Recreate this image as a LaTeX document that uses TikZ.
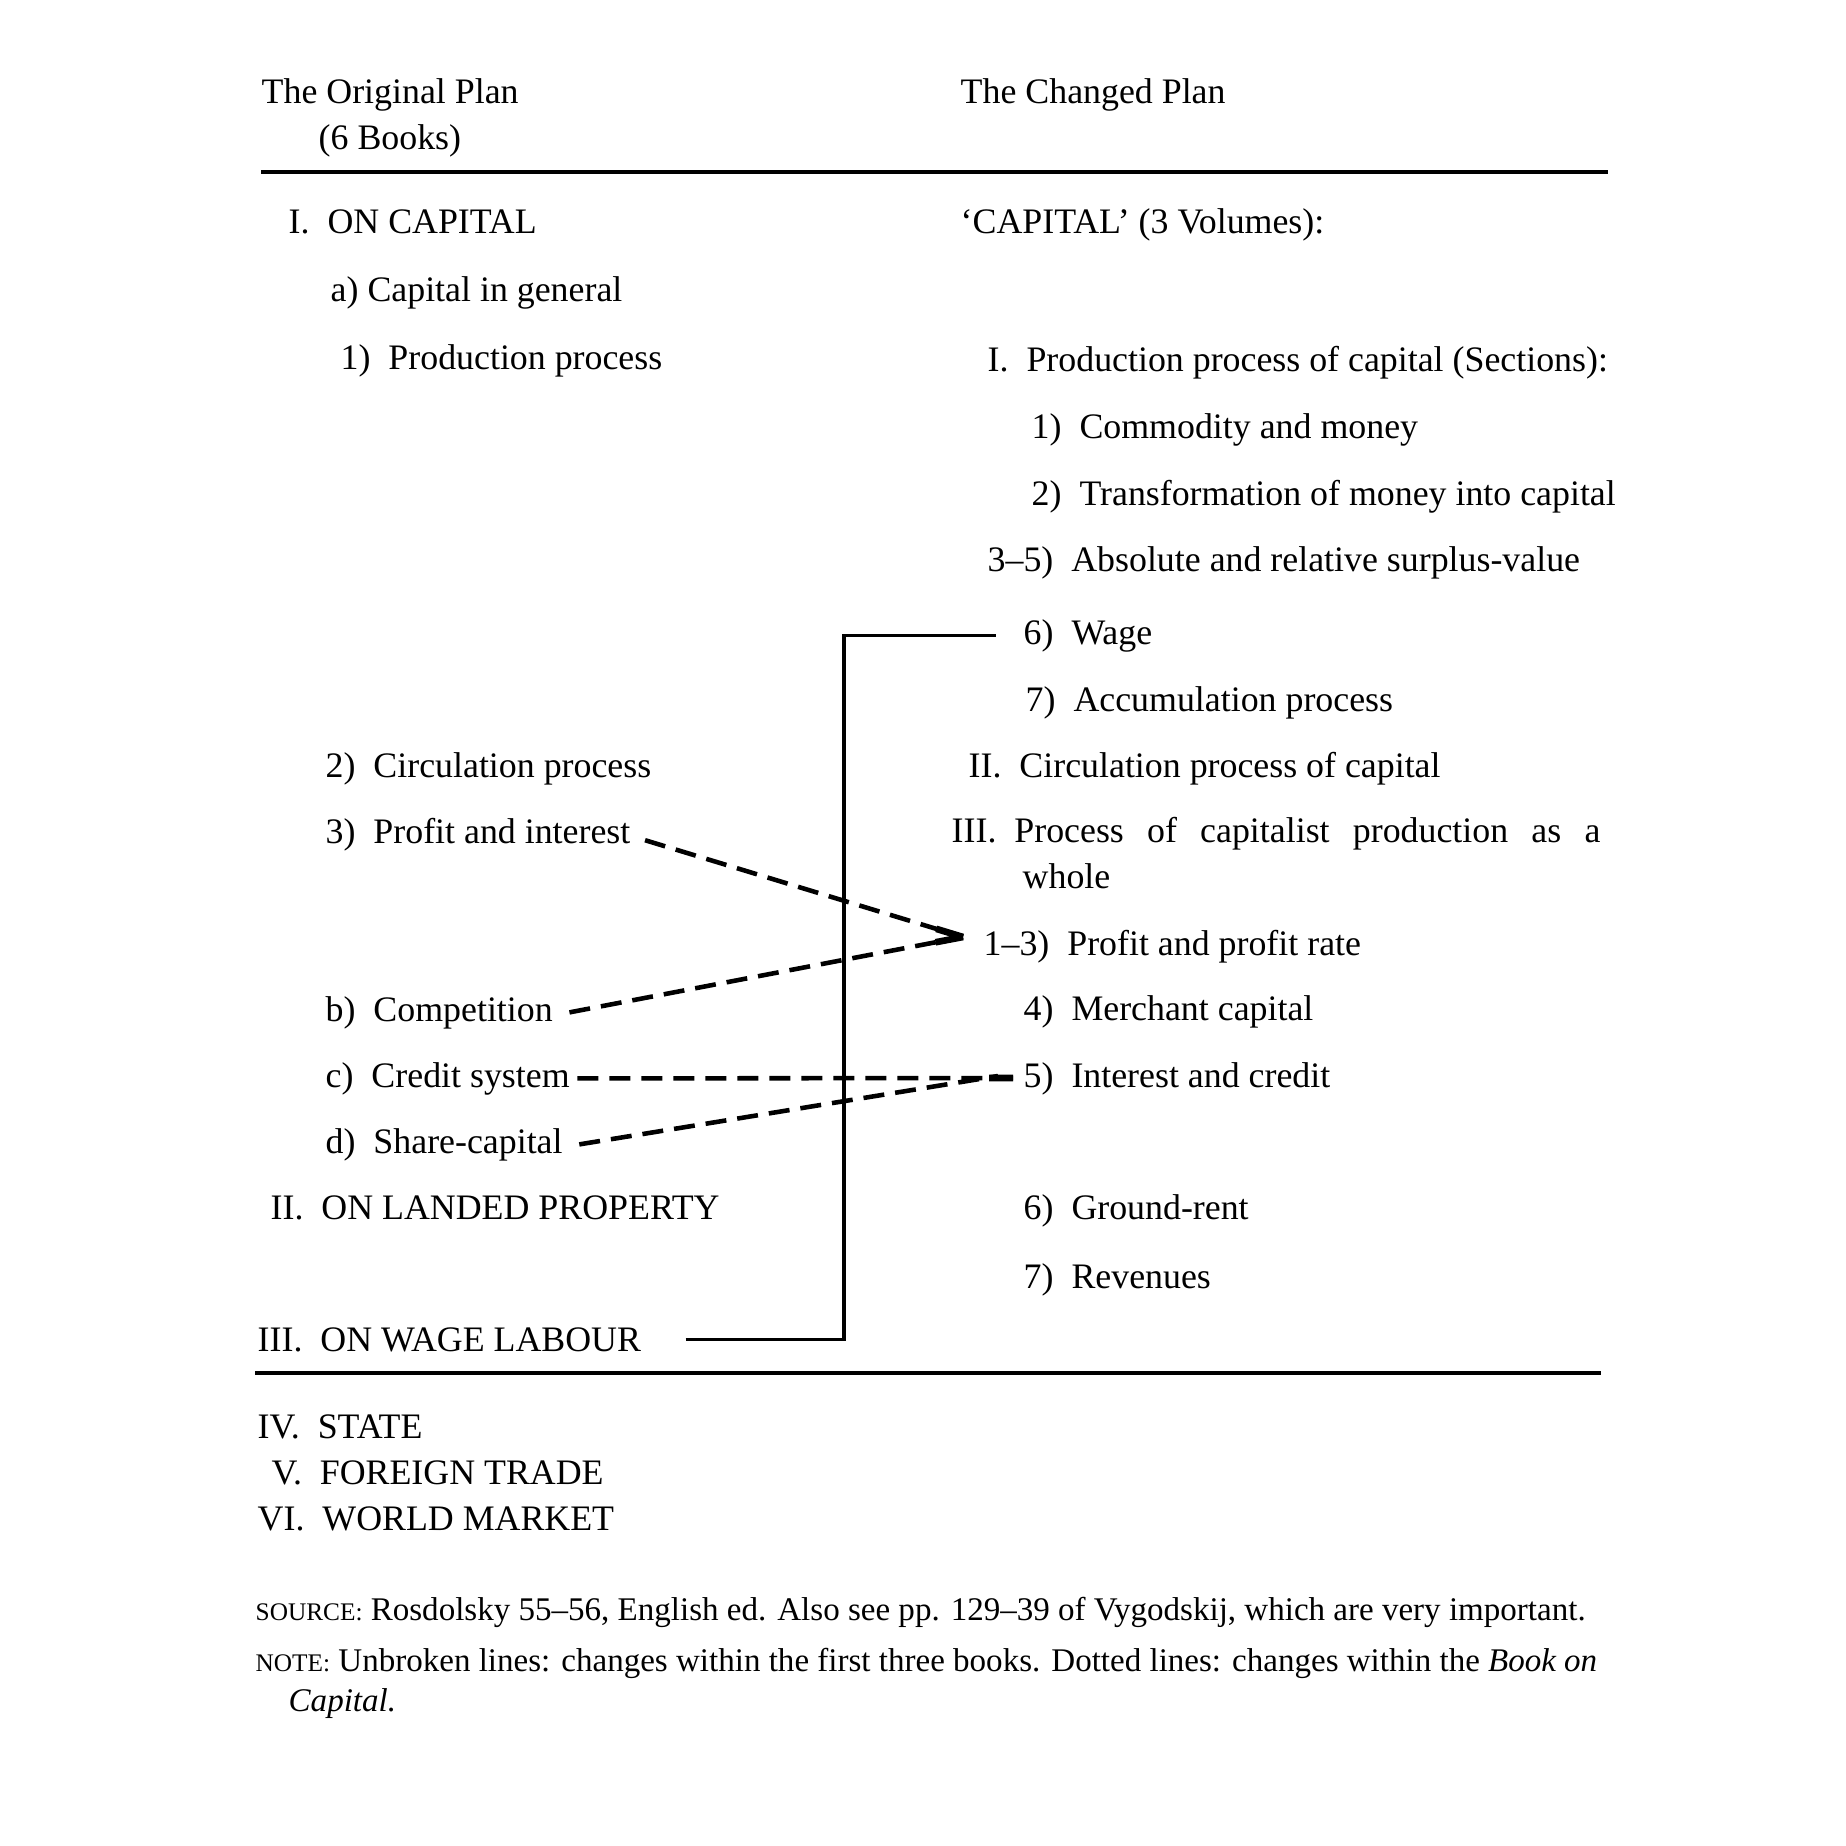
\documentclass[tikz,border=0pt]{standalone}
\usepackage{fontspec}
\setmainfont{Liberation Serif}
\usetikzlibrary{calc}
\begin{document}
\begin{tikzpicture}[x=0.1mm,y=-0.1mm,
  every node/.style={inner sep=0pt, anchor=base west, font=\fontsize{10.2}{12}\selectfont},
  rulel/.style={line width=1.1pt},
  solidconn/.style={line width=0.9pt},
  dashconn/.style={line width=1.3pt, dash pattern=on 2.1mm off 1.1mm},
  heavyend/.style={line width=1.9pt},
  smalltext/.style={font=\fontsize{9.4}{11}\selectfont}]
\useasboundingbox[fill=white] (0,0) rectangle (1846,1846);
% headers
\node (hOrig) at (261,104) {The Original Plan};
\node (hBooks) at (318,150) {(6 Books)};
\node (hChg) at (960,104) {The Changed Plan};
\coordinate (r1a) at (261,172);
\coordinate (r1b) at (1608,172);
\draw[rulel] (r1a) -- (r1b);
% left column
\node (onCap) at (288,233) {I.\ \ ON CAPITAL};
\node (capGen) at (330,302) {a) Capital in general};
\node (prodL) at (340,369) {1)\ \ Production process};
\node (circL) at (325,777) {2)\ \ Circulation process};
\node (profint) at (325,843) {3)\ \ Profit and interest};
\node (compet) at (325,1021) {b)\ \ Competition};
\node (credit) at (325,1087) {c)\ \ Credit system};
\node (share) at (325,1153) {d)\ \ Share-capital};
\node (landed) at (270,1219) {II.\ \ ON LANDED PROPERTY};
\node (wagelab) at (257,1351) {III.\ \ ON WAGE LABOUR};
% right column
\node (capVol) at (960,233) {`CAPITAL' (3 Volumes):};
\node (prodR) at (987,371) {I.\ \ Production process of capital (Sections):};
\node (commod) at (1031,438) {1)\ \ Commodity and money};
\node (transf) at (1031,505) {2)\ \ Transformation of money into capital};
\node (surplus) at (987,571) {3--5)\ \ Absolute and relative surplus-value};
\node (wage) at (1023,644) {6)\ \ Wage};
\node (accum) at (1025,711) {7)\ \ Accumulation process};
\node (circR) at (968,777) {II.\ \ Circulation process of capital};
\node (procW) at (951,842) {III.\ \ \makebox[58.6mm][s]{Process of capitalist production as a}};
\node (whole) at (1022,888) {whole};
\node (profrate) at (983,955) {1--3)\ \ Profit and profit rate};
\node (merch) at (1023,1020) {4)\ \ Merchant capital};
\node (intcred) at (1023,1087) {5)\ \ Interest and credit};
\node (ground) at (1023,1219) {6)\ \ Ground-rent};
\node (revenue) at (1023,1288) {7)\ \ Revenues};
% bottom
\coordinate (r2a) at (255,1373);
\coordinate (r2b) at (1601,1373);
\draw[rulel] (r2a) -- (r2b);
\node (state) at (257,1438) {IV.\ \ STATE};
\node (foreign) at (271,1484) {V.\ \ FOREIGN TRADE};
\node (world) at (257,1530) {VI.\ \ WORLD MARKET};
\node[smalltext] (source) at (255,1620) {{\fontsize{7.2}{9}\selectfont SOURCE:} Rosdolsky 55--56, English ed. Also see pp. 129--39 of Vygodskij, which are very important.};
\node[smalltext] (note) at (255,1671) {{\fontsize{7.2}{9}\selectfont NOTE:} Unbroken lines: changes within the first three books. Dotted lines: changes within the \textit{Book on}};
\node[smalltext] (note2) at (288,1711) {\textit{Capital.}};
% connectors
\coordinate (vx) at (844,0);
\draw[solidconn] ([xshift=4.4mm]wagelab.east) -| (vx |- wage.west) -- ([xshift=-2.7mm]wage.west);
\coordinate (tipA) at (963,937);
\coordinate (tipB) at (1013,1078);
\draw[dashconn] ([xshift=1.4mm,yshift=-0.6mm]profint.east) -- (tipA);
\draw[heavyend] ($(tipA)!2.8mm!([xshift=1.4mm,yshift=-0.6mm]profint.east)$) -- (tipA);
\draw[dashconn] ([xshift=1.6mm]compet.east) -- (tipA);
\draw[heavyend] ($(tipA)!2.8mm!([xshift=1.6mm]compet.east)$) -- (tipA);
\draw[dashconn] ([xshift=0.7mm]credit.east) -- (tipB);
\draw[heavyend] ($(tipB)!2.4mm!([xshift=0.7mm]credit.east)$) -- (tipB);
\draw[dashconn] ([xshift=1.6mm]share.east) -- ([xshift=-1.5mm,yshift=0.2mm]tipB);
\end{tikzpicture}
\end{document}
